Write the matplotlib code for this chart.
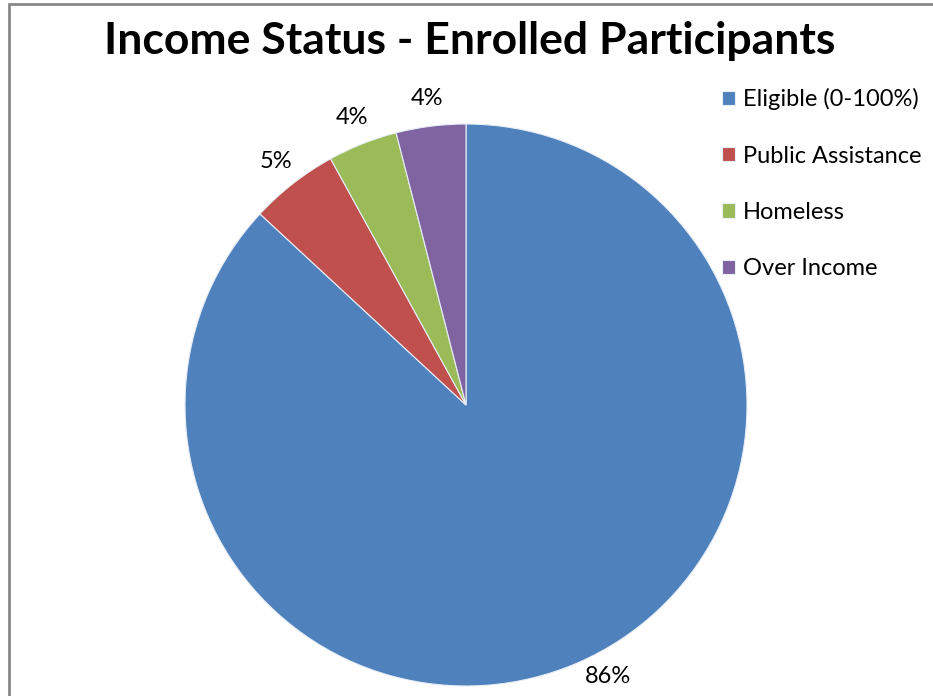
import matplotlib
matplotlib.use("Agg")
import matplotlib.pyplot as plt
import numpy as np
from matplotlib.patches import Rectangle

categories = ["Eligible (0-100%)", "Public Assistance", "Homeless", "Over Income"]
shares = [86.9, 5.1, 4.0, 4.0]
pct_labels = ["86%", "5%", "4%", "4%"]
colors = ["#4F81BD", "#C0504D", "#9BBB59", "#8064A2"]

plt.rcParams["font.family"] = ["Lato", "DejaVu Sans"]

fig = plt.figure(figsize=(9.33, 6.96), dpi=100)
W, H = 933, 696

# pie axes: center (466, 405), radius 281 px
cx, cy, r = 466, 405, 281
ax = fig.add_axes([(cx - r) / W, (H - cy - r) / H, 2 * r / W, 2 * r / H])
wedges, _ = ax.pie(
    shares,
    colors=colors,
    startangle=90,
    counterclock=False,
    wedgeprops={"edgecolor": "#E8EEF6", "linewidth": 0.8},
)
ax.set_xlim(-1, 1)
ax.set_ylim(-1, 1)
ax.set_aspect("equal")
for w in wedges:
    w.set_clip_on(False)

# data labels just outside each slice (big one nudged like Excel's best fit)
nudge = [4, 0, 0, 0]
dist = [1.09, 1.1, 1.1, 1.1]
for w, lab, dn, d in zip(wedges, pct_labels, nudge, dist):
    mid = np.deg2rad((w.theta1 + w.theta2) / 2 + dn)
    ax.text(d * np.cos(mid), d * np.sin(mid), lab, ha="center",
            va="center", fontsize=17, color="black")

fig.text(470 / W, 1 - 41 / H, "Income Status - Enrolled Participants",
         ha="center", va="center", fontsize=32, fontweight="bold")

leg = fig.legend(wedges, categories, loc="upper left",
                 bbox_to_anchor=(722 / W, 1 - 88 / H), frameon=False,
                 fontsize=17, handlelength=0.55, handleheight=0.55,
                 labelspacing=1.5, handletextpad=0.35, borderpad=0,
                 borderaxespad=0)

# partial gray frame (cropped on right / bottom)
fig.patches.append(Rectangle((8.5 / W, -0.1), 1.2, 1 - 4 / H + 0.1,
                             transform=fig.transFigure, fill=False,
                             edgecolor="#888888", linewidth=2))

fig.savefig("out.png", dpi=100)
